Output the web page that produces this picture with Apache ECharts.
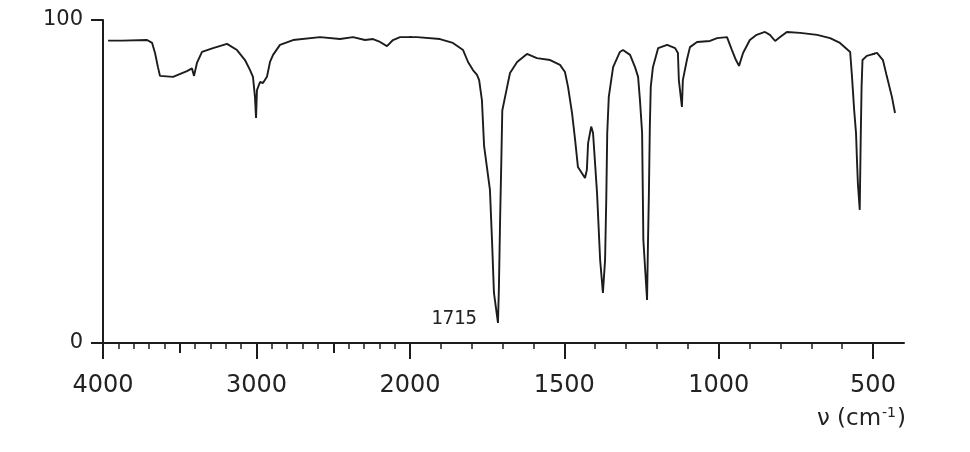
<!DOCTYPE html>
<html><head><meta charset="utf-8">
<script src="https://cdn.jsdelivr.net/npm/echarts@6/dist/echarts.min.js"></script>
<style>html,body{margin:0;padding:0;background:#fff}#c{width:970px;height:452px}</style>
</head><body><div id="c"></div>
<script>
// Wavenumber (cm-1) and % transmittance
const wavenumbers = [
  3967, 3876, 3713, 3680, 3661, 3642, 3629, 3544, 3453, 3420, 3407, 3388, 3355, 3283, 3192, 3127,
  3075, 3042, 3023, 3010, 3003, 2997, 2977, 2958, 2932, 2912, 2892, 2847, 2762, 2586, 2456, 2371,
  2293, 2241, 2195, 2150, 2111, 2065, 1977, 1903, 1861, 1828, 1812, 1796, 1783, 1776, 1767, 1760,
  1741, 1734, 1728, 1715, 1712, 1708, 1704, 1701, 1692, 1676, 1653, 1621, 1589, 1546, 1514, 1498,
  1488, 1475, 1465, 1456, 1433, 1427, 1423, 1413, 1407, 1400, 1394, 1384, 1375, 1368, 1364, 1361,
  1356, 1342, 1320, 1310, 1287, 1271, 1261, 1255, 1248, 1244, 1232, 1229, 1226, 1223, 1220, 1213,
  1196, 1167, 1141, 1132, 1129, 1119, 1116, 1103, 1093, 1070, 1028, 1005, 973, 957, 944, 934,
  921, 899, 877, 850, 834, 817, 801, 779, 736, 681, 639, 607, 574, 568, 561, 555,
  552, 549, 543, 540, 537, 534, 520, 487, 468, 455, 439, 429
];
const transmittance = [
  93.6, 93.6, 93.8, 92.9, 89.8, 85.4, 82.7, 82.4, 84.2, 85.0, 82.7, 86.7, 90.1, 91.3, 92.6, 90.7,
  87.6, 84.5, 82.4, 76.2, 69.7, 78.3, 80.8, 80.5, 82.4, 87.0, 89.2, 92.3, 93.8, 94.7, 94.1, 94.7,
  93.8, 94.1, 93.2, 91.9, 93.8, 94.7, 94.7, 94.1, 92.9, 90.7, 87.0, 84.5, 83.0, 81.4, 75.2, 61.0,
  47.4, 31.0, 15.5, 6.2, 17.0, 38.7, 57.0, 72.0, 76.2, 83.6, 87.0, 89.5, 88.2, 87.6, 86.1, 83.9,
  79.3, 71.2, 62.8, 54.5, 51.1, 53.6, 61.9, 67.0, 65.0, 55.0, 46.4, 25.7, 15.5, 25.7, 45.2, 65.0,
  76.2, 85.4, 90.1, 90.7, 89.2, 85.4, 82.4, 75.2, 65.0, 31.9, 13.3, 31.0, 46.4, 66.9, 79.3, 85.4,
  91.3, 92.3, 91.3, 89.8, 81.4, 73.1, 81.4, 87.6, 91.6, 93.2, 93.5, 94.4, 94.7, 90.7, 87.6, 85.8,
  89.8, 93.8, 95.4, 96.3, 95.4, 93.5, 94.7, 96.3, 96.0, 95.4, 94.4, 92.9, 90.1, 82.4, 72.1, 65.0,
  56.7, 49.5, 41.2, 62.0, 79.3, 87.6, 88.9, 89.8, 87.6, 82.4, 76.2, 71.2
];
const xTickLabelsHigh = [4000, 3000, 2000];
const xTickLabelsLow = [1500, 1000, 500];
const yTickLabels = [0, 100];
const peakLabel = { wavenumber: 1715, value: 6.2, text: '1715' };
const axisTitle = 'ν (cm{sup|-1})';

const ink = '#1c1c1c';
const font = 'DejaVu Sans';
const points = wavenumbers.map((w, i) => [w, transmittance[i]]);

function xAxisBase(gridIndex, min, max, interval, split, labels) {
  return {
    type: 'value', gridIndex, min, max, interval, inverse: true, position: 'bottom',
    axisLine: { show: true, onZero: false, lineStyle: { color: ink, width: 2 } },
    axisTick: { show: labels !== null, length: 16, lineStyle: { color: ink, width: 2 } },
    minorTick: { show: labels !== null, splitNumber: split, length: 6, lineStyle: { color: ink, width: 1.5 } },
    splitLine: { show: false }, minorSplitLine: { show: false },
    axisLabel: {
      show: labels !== null, margin: 31, fontSize: 24, color: '#222', fontFamily: font,
      formatter: v => (labels && labels.includes(v)) ? String(v) : ''
    }
  };
}
function yAxisBase(gridIndex, show) {
  return {
    type: 'value', gridIndex, min: 0, max: 100, interval: 100, show,
    axisLine: { show: true, onZero: false, lineStyle: { color: ink, width: 2 } },
    axisTick: { show: true, length: 12, lineStyle: { color: ink, width: 2 } },
    axisLabel: {
      margin: 20, fontSize: 21, color: '#222', fontFamily: font,
      formatter: v => yTickLabels.includes(v) ? String(v) : ''
    },
    splitLine: { show: false }
  };
}
function lineSeries(idx, withMark) {
  const s = {
    type: 'line', xAxisIndex: idx, yAxisIndex: idx, data: points, clip: true,
    showSymbol: false, symbol: 'none', silent: true,
    lineStyle: { color: ink, width: 1.9 }
  };
  if (withMark) {
    s.markPoint = {
      symbol: 'circle', symbolSize: 0, silent: true,
      data: [{ coord: [peakLabel.wavenumber, peakLabel.value] }],
      label: {
        show: true, position: 'left', distance: 21, offset: [0, -4],
        formatter: peakLabel.text, fontSize: 19, color: '#222', fontFamily: 'DejaVu Sans Mono'
      }
    };
  }
  return s;
}
// medium ticks every 500 cm-1 on the 4000-2000 section
const midTickAxis = {
  type: 'value', gridIndex: 0, min: 2000, max: 4000, interval: 500, inverse: true, position: 'bottom', offset: 0,
  axisLine: { show: false, onZero: false },
  axisTick: { show: true, length: 10, lineStyle: { color: ink, width: 2 } },
  axisLabel: { show: false }, splitLine: { show: false }
};

const chart = echarts.init(document.getElementById('c'), null, { renderer: 'canvas' });
chart.setOption({
  animation: false,
  backgroundColor: '#fff',
  title: {
    text: axisTitle, right: 64, top: 406, padding: 0,
    textStyle: {
      fontSize: 23, fontWeight: 'normal', color: '#222', fontFamily: font,
      rich: { sup: { fontSize: 14, fontFamily: font, color: '#222', verticalAlign: 'top', padding: [0, 1, 12, 1] } }
    }
  },
  grid: [
    { left: 103, top: 20, width: 307, height: 323, outerBoundsMode: 'none' },
    { left: 410, top: 20, width: 463, height: 323, outerBoundsMode: 'none' },
    { left: 873, top: 20, width: 31, height: 323, outerBoundsMode: 'none' }
  ],
  xAxis: [
    xAxisBase(0, 2000, 4000, 1000, 10, xTickLabelsHigh),
    xAxisBase(1, 500, 2000, 500, 5, xTickLabelsLow),
    xAxisBase(2, 400, 500, 100, 1, null),
    midTickAxis
  ],
  yAxis: [yAxisBase(0, true), yAxisBase(1, false), yAxisBase(2, false)],
  series: [lineSeries(0, false), lineSeries(1, true), lineSeries(2, false)]
});
</script></body></html>
